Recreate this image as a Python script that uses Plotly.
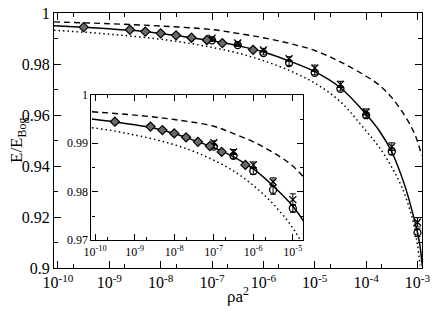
import plotly.graph_objects as go

# ---- data (log10 of rho a^2, E/E_Bog) ----
curve_logx_solid = [-10.08, -9.5, -9.0, -8.5, -8.0, -7.5, -7.0, -6.5, -6.0, -5.5, -5.0, -4.5, -4.0, -3.75, -3.5, -3.25, -3.1, -3.0, -2.95, -2.904]
curve_solid = [0.9950, 0.9944, 0.9938, 0.9931, 0.9920, 0.9906, 0.9891, 0.9872, 0.9847, 0.9812, 0.9770, 0.9707, 0.9603, 0.9540, 0.9455, 0.9325, 0.9220, 0.9140, 0.9085, 0.9005]

curve_logx_dashed = [-10.08, -9.0, -8.0, -7.0, -6.5, -6.0, -5.5, -5.0, -4.5, -4.0, -3.75, -3.5, -3.25, -3.1, -3.0, -2.918]
curve_dashed = [0.9965, 0.9958, 0.9949, 0.9935, 0.9920, 0.9903, 0.9881, 0.9853, 0.9808, 0.9752, 0.9718, 0.9668, 0.9598, 0.9545, 0.9497, 0.9440]

curve_logx_dotted = [-10.08, -9.5, -9.0, -8.5, -8.0, -7.5, -7.0, -6.5, -6.0, -5.5, -5.0, -4.5, -4.0, -3.75, -3.5, -3.3, -3.1, -3.0, -2.95]
curve_dotted = [0.9932, 0.9925, 0.9917, 0.9908, 0.9897, 0.9883, 0.9865, 0.9843, 0.9813, 0.9775, 0.9725, 0.9652, 0.9537, 0.9475, 0.9395, 0.9315, 0.9195, 0.9090, 0.9010]

diamond_logx = [-9.5, -8.6, -8.3, -8.0, -7.7, -7.4, -7.1, -6.8, -6.2]
diamond_y = [0.99444, 0.99343, 0.99271, 0.99203, 0.99123, 0.99030, 0.98942, 0.98821, 0.98554]
diamond_err = [0.0003, 0.0002, 0.0002, 0.0002, 0.0002, 0.0002, 0.0002, 0.0002, 0.0002]

circle_logx = [-7.0, -6.5, -6.0, -5.5, -5.0, -4.5, -4.0, -3.5, -3.0]
circle_y = [0.98930, 0.98741, 0.98428, 0.98038, 0.97657, 0.97023, 0.95992, 0.94569, 0.91385]
circle_err = [0.0004, 0.0005, 0.0007, 0.0009, 0.0008, 0.0008, 0.0010, 0.0012, 0.0015]

cross_logx = [-7.0, -6.5, -6.0, -5.5, -5.0, -4.5, -4.0, -3.5, -3.0]
cross_y = [0.99010, 0.98821, 0.98554, 0.98207, 0.97837, 0.97202, 0.96118, 0.94760, 0.91794]
cross_err = [0.0004, 0.0005, 0.0006, 0.0008, 0.0012, 0.0012, 0.0012, 0.0015, 0.0018]

main_xticks = [-10, -9, -8, -7, -6, -5, -4, -3]
main_yticks = [0.9, 0.92, 0.94, 0.96, 0.98, 1.0]
main_ytext = ["0.9", "0.92", "0.94", "0.96", "0.98", "1"]
inset_xticks = [-10, -9, -8, -7, -6, -5]
inset_yticks = [0.97, 0.98, 0.99, 1.0]
inset_ytext = ["0.97", "0.98", "0.99", "1"]

def pw(v):
    return [10 ** a for a in v]

FONT = "Liberation Serif, Times New Roman, serif"
fig = go.Figure()

for xa, ya in (("x", "y"), ("x2", "y2")):
    fig.add_trace(go.Scatter(x=pw(curve_logx_dashed), y=curve_dashed, mode="lines",
                             line=dict(color="black", width=1.4, dash="6px,4px", shape="spline", smoothing=1.0),
                             xaxis=xa, yaxis=ya, showlegend=False, hoverinfo="skip"))
    fig.add_trace(go.Scatter(x=pw(curve_logx_dotted), y=curve_dotted, mode="lines",
                             line=dict(color="black", width=1.5, dash="1.5px,3px", shape="spline", smoothing=1.0),
                             xaxis=xa, yaxis=ya, showlegend=False, hoverinfo="skip"))
    fig.add_trace(go.Scatter(x=pw(curve_logx_solid), y=curve_solid, mode="lines",
                             line=dict(color="black", width=1.5, shape="spline", smoothing=1.0),
                             xaxis=xa, yaxis=ya, showlegend=False, hoverinfo="skip"))
    fig.add_trace(go.Scatter(x=pw(cross_logx), y=cross_y, mode="markers",
                             marker=dict(symbol="x-thin", size=7, color="black", line=dict(color="black", width=1.3)),
                             error_y=dict(type="data", array=cross_err, color="black", thickness=1, width=3),
                             xaxis=xa, yaxis=ya, showlegend=False))
    fig.add_trace(go.Scatter(x=pw(circle_logx), y=circle_y, mode="markers",
                             marker=dict(symbol="circle-open", size=7, color="black", line=dict(color="black", width=1.3)),
                             error_y=dict(type="data", array=circle_err, color="black", thickness=1, width=3),
                             xaxis=xa, yaxis=ya, showlegend=False))
    fig.add_trace(go.Scatter(x=pw(diamond_logx), y=diamond_y, mode="markers",
                             marker=dict(symbol="diamond", size=7, color="#6a6a6a", line=dict(color="black", width=1.2)),
                             error_y=dict(type="data", array=diamond_err, color="black", thickness=1, width=3),
                             xaxis=xa, yaxis=ya, showlegend=False))

axis_common = dict(showgrid=False, zeroline=False, showline=True, linecolor="black", linewidth=1.3,
                   mirror="ticks", ticks="inside", tickcolor="black", tickwidth=1)

fig.update_layout(
    width=436, height=314,
    margin=dict(l=54, r=9, t=6, b=46),
    paper_bgcolor="white", plot_bgcolor="white",
    font=dict(family=FONT, color="black"),
    xaxis=dict(type="log", range=[-10.077, -2.912], domain=[0, 1],
               tickvals=pw(main_xticks), ticktext=[f"10<sup>{t}</sup>" for t in main_xticks],
               ticklen=7, tickfont=dict(size=16, family=FONT),
               minor=dict(tickvals=pw([t + 0.30103 for t in main_xticks[:-1]]), ticklen=4, ticks="inside", tickcolor="black"),
               **axis_common),
    yaxis=dict(range=[0.9, 1.0], domain=[0, 1],
               tickvals=main_yticks, ticktext=main_ytext, ticklen=7,
               tickfont=dict(size=16, family=FONT),
               minor=dict(dtick=0.01, ticklen=4, ticks="inside", tickcolor="black"),
               **axis_common),
    xaxis2=dict(type="log", range=[-10.0925, -4.735], domain=[0.1019, 0.6775], anchor="y2",
                tickvals=pw(inset_xticks), ticktext=[f"10<sup>{t}</sup>" for t in inset_xticks],
                ticklen=6, tickfont=dict(size=12, family=FONT),
                minor=dict(tickvals=pw([t + 0.30103 for t in inset_xticks]), ticklen=3, ticks="inside", tickcolor="black"),
                **axis_common),
    yaxis2=dict(range=[0.97, 1.0], domain=[0.1088, 0.6794], anchor="x2",
                tickvals=inset_yticks, ticktext=inset_ytext, ticklen=6,
                tickfont=dict(size=12, family=FONT),
                minor=dict(dtick=0.005, ticklen=3, ticks="inside", tickcolor="black"),
                **axis_common),
    annotations=[
        dict(text="ρa<sup>2</sup>", xref="paper", yref="paper", x=0.4987, y=-0.107,
             xanchor="center", yanchor="middle", showarrow=False, font=dict(size=17, family=FONT)),
        dict(text="E/E<sub>Bog</sub>", xref="paper", yref="paper", x=-0.0992, y=0.5,
             xanchor="center", yanchor="middle", textangle=-90, showarrow=False, font=dict(size=17, family=FONT)),
    ],
)

fig.write_html("out.html", config={"displayModeBar": False},
               post_script="document.body.style.margin='0px';document.body.style.overflow='hidden';")
